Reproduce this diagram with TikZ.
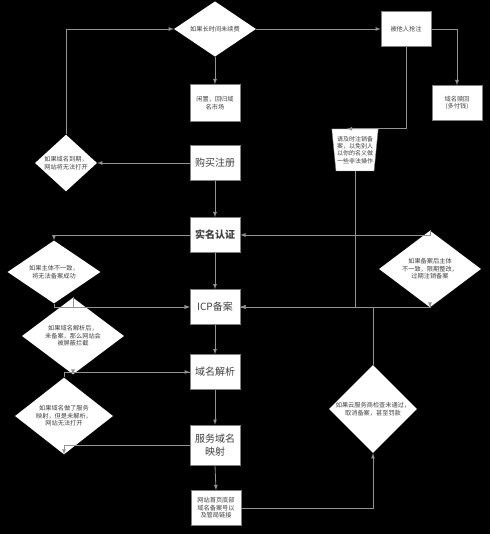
\documentclass[tikz,border=0pt]{standalone}
\usepackage{fontspec}
\newfontfamily\cjk{Noto Sans CJK SC}
\usetikzlibrary{shapes.geometric}
\begin{document}
\begin{tikzpicture}[x=1pt,y=-1pt]
% Styles (MODIFIABLES)
\tikzstyle{fleche}=[->,>=latex,line width=0.8pt,draw=gray!85]
\tikzstyle{boite}=[draw=gray,line width=0.6pt,fill=white,minimum width=50pt,minimum height=35pt,inner sep=1pt,align=center,text=black!75,font=\cjk\fontsize{6.2}{7.6}\selectfont]
\tikzstyle{grande}=[boite,font=\cjk\fontsize{10}{12.5}\selectfont]
\tikzstyle{losange}=[diamond,fill=white,inner sep=0pt,align=center,text=black!75,font=\cjk\fontsize{6.2}{7.6}\selectfont]
% Fond
\fill[black] (0,0) rectangle (490,534);
\useasboundingbox (0,0) rectangle (490,534);
% Noeuds
\node[losange,minimum width=82pt,minimum height=40pt] (Renouv) at (215,29) {如果长时间未续费};
\node[boite] (Vol) at (406,29) {被他人抢注};
\node[boite] (Rachat) at (457,103) {域名赎回\\(多付钱)};
\node[boite,minimum height=37pt] (Libre) at (215,103) {闲置，回归域\\名市场};
\node[grande] (Achat) at (215,163) {购买注册};
\node[losange,minimum width=62pt,minimum height=44pt] (Expire) at (66,163) {如果域名到期，\\网站将无法打开};
\node[trapezium,trapezium stretches=true,shape border rotate=180,trapezium angle=82,fill=white,draw=gray,minimum width=37pt,minimum height=42pt,inner sep=1pt,align=center,text=black!75,font=\cjk\fontsize{6}{7.4}\selectfont] (Annul) at (355,150) {请及时注销备\\案，以免别人\\以你的名义做\\一些非法操作};
\node[grande,font=\cjk\bfseries\fontsize{10}{12.5}\selectfont] (Reel) at (215,235) {实名认证};
\node[grande] (Icp) at (215,307) {ICP备案};
\node[losange,minimum width=93pt,minimum height=47pt] (NonConf) at (54,272) {如果主体不一致，\\将无法备案成功};
\node[losange,minimum width=102pt,minimum height=60pt] (Conf) at (430,269) {如果备案后主体\\不一致，限期整改，\\过期注销备案};
\node[losange,minimum width=102pt,minimum height=44pt] (Bloc) at (73,336) {如果域名解析后，\\未备案，那么网站会\\被屏蔽拦截};
\node[grande] (Resol) at (215,372) {域名解析};
\node[losange,minimum width=98pt,minimum height=48pt] (Nonres) at (64,416) {如果域名做了服务\\映射，但是未解析，\\网站无法打开};
\node[grande,minimum height=40pt] (Mappe) at (215,445) {服务域名\\映射};
\node[losange,minimum width=86pt,minimum height=78pt] (Cloud) at (373,409) {如果云服务商检查未通过，\\取消备案，甚至罚款};
\node[boite] (Pied) at (216,508) {网站首页底部\\域名备案号以\\及管局链接};
\coordinate (AnnulHaut) at ([xshift=-8pt]Annul.north);
% Arcs
\draw[fleche] (Expire.north) |- (Renouv.west);
\draw[fleche] (Achat.west) -- (Expire.east);
\draw[fleche] (Renouv.south) -- (Libre.north);
\draw[fleche] (Renouv.east) -- (Vol.west);
\draw[fleche] (Vol.east) -| (Rachat.north);
\draw[fleche] (Vol.south) |- (AnnulHaut);
\draw[fleche] (Achat.south) -- (Reel.north);
\draw[fleche] (Reel.south) -- (Icp.north);
\draw[fleche] (Reel.west) -| (NonConf.north);
\draw[fleche] (NonConf.south) |- (Icp.west);
\draw[fleche] (Bloc.north) |- (Icp.west);
\draw[fleche] (Resol.west) -| (Bloc.south);
\draw[fleche] (Nonres.north) |- (Resol.west);
\draw[fleche] (Mappe.west) -| (Nonres.south);
\draw[fleche] (Icp.south) -- (Resol.north);
\draw[fleche] (Resol.south) -- (Mappe.north);
\draw[fleche] (Mappe.south) -- (Pied.north);
\draw[fleche] (Pied.east) -| (Cloud.south);
\draw[fleche] (Cloud.north) |- (Icp.east);
\draw[fleche] (Annul.south) |- (Icp.east);
\draw[fleche] (Icp.east) -| (Conf.south);
\draw[fleche] (Conf.north) |- (Reel.east);
\end{tikzpicture}
\end{document}
